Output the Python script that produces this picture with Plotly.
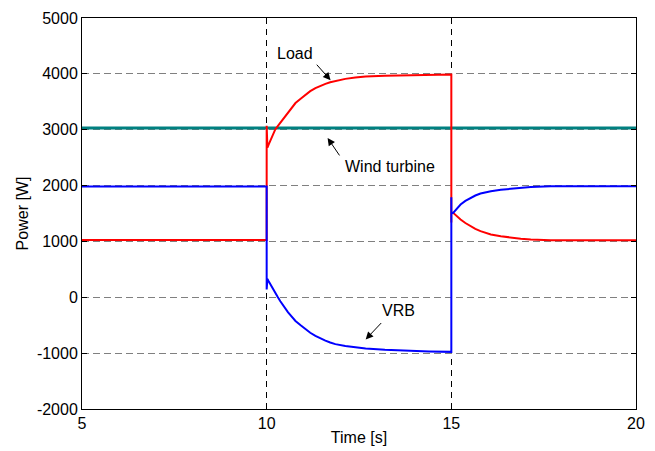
import plotly.graph_objects as go

# ---- data ----
wind_t = [5.0, 20.0]
wind_p = [3030, 3030]

load_t = [5.0, 10.0, 10.0, 10.02, 10.05, 10.14, 10.23, 10.30, 10.37, 10.44, 10.51, 10.58, 10.65, 10.78,
          10.92, 11.05, 11.18, 11.32, 11.45, 11.59, 11.72, 11.86, 12.13, 12.40, 12.68, 13.2, 13.8, 14.4,
          15.0, 15.0, 15.0, 15.05, 15.10, 15.15, 15.25, 15.38, 15.52, 15.65, 15.79, 15.93, 16.07,
          16.34, 16.61, 16.88, 17.15, 17.69, 18.5, 19.3, 20.0]
load_p = [1025, 1025, 3070, 2680, 2730, 2880, 3000, 3065, 3125, 3185, 3238, 3300, 3365, 3477,
          3555, 3625, 3690, 3745, 3785, 3821, 3850, 3875, 3910, 3934, 3952, 3968, 3978, 3984,
          3988, 1340, 1520, 1512, 1480, 1450, 1393, 1330, 1273, 1225, 1184, 1152, 1125,
          1092, 1066, 1050, 1036, 1023, 1020, 1020, 1020]

vrb_t = [5.0, 10.0, 10.0, 10.02, 10.05, 10.14, 10.23, 10.30, 10.37, 10.44, 10.51, 10.58, 10.65, 10.78,
         10.92, 11.05, 11.18, 11.32, 11.45, 11.59, 11.72, 11.86, 12.13, 12.40, 12.68, 13.2, 13.8, 14.4,
         15.0, 15.0, 15.0, 15.05, 15.10, 15.15, 15.25, 15.38, 15.52, 15.65, 15.79, 15.93, 16.07,
         16.34, 16.61, 16.88, 17.15, 17.69, 18.5, 19.3, 20.0]
vrb_p = [1985, 1985, 140, 330, 291, 180, 84, 5, -70, -145, -214, -270, -325, -423,
         -500, -571, -635, -691, -735, -775, -810, -839, -873, -898, -916, -940, -958, -970,
         -977, 1790, 1500, 1510, 1550, 1590, 1661, 1725, 1780, 1822, 1857, 1880, 1899,
         1925, 1946, 1962, 1976, 1988, 1990, 1990, 1990]

x_ticks = [5, 10, 15, 20]
y_ticks = [-2000, -1000, 0, 1000, 2000, 3000, 4000, 5000]

# annotations: (label, text_x, text_y, tail_x, tail_y, head_x, head_y)
notes = [
    ("Load", 10.78, 4370, 11.32, 4191, 11.73, 3887),
    ("Wind turbine", 13.33, 2334, 12.0, 2513, 11.65, 2852),
    ("VRB", 13.57, -238, 13.14, -434, 12.68, -755),
]

FONT = "Liberation Sans, Arial, sans-serif"
FS = 16

fig = go.Figure()
fig.add_trace(go.Scatter(x=wind_t, y=wind_p, mode="lines", line=dict(color="#008080", width=3),
                         name="Wind turbine", showlegend=False))
fig.add_trace(go.Scatter(x=load_t, y=load_p, mode="lines", line=dict(color="#FF0000", width=2),
                         name="Load", showlegend=False))
fig.add_trace(go.Scatter(x=vrb_t, y=vrb_p, mode="lines", line=dict(color="#0000FF", width=2),
                         name="VRB", showlegend=False))

for label, tx, ty, ax_, ay_, hx, hy in notes:
    fig.add_annotation(x=tx, y=ty, text=label, showarrow=False,
                       font=dict(family=FONT, size=FS, color="black"))
    fig.add_annotation(x=hx, y=hy, ax=ax_, ay=ay_, xref="x", yref="y", axref="x", ayref="y",
                       text="", showarrow=True, arrowhead=2, arrowsize=1.5, arrowwidth=1,
                       arrowcolor="black")

fig.update_layout(
    width=655, height=451,
    margin=dict(l=82, r=19, t=18, b=42),
    paper_bgcolor="white", plot_bgcolor="white",
    font=dict(family=FONT, size=FS, color="black"),
    xaxis=dict(range=[5, 20], tickvals=x_ticks, ticktext=[str(v) for v in x_ticks],
               showline=True, linecolor="black", linewidth=1, mirror="ticks",
               ticks="inside", ticklen=5, tickcolor="black", automargin=False,
               showgrid=True, gridcolor="black", gridwidth=1, griddash="6px,5px",
               zeroline=False,
               title=dict(text="Time [s]", standoff=0, font=dict(size=FS))),
    yaxis=dict(range=[-2000, 5000], tickvals=y_ticks, ticktext=[str(v) for v in y_ticks],
               showline=True, linecolor="black", linewidth=1, mirror="ticks",
               ticks="inside", ticklen=5, tickcolor="black", automargin=False,
               showgrid=True, gridcolor="#808080", gridwidth=1, griddash="7px,4px",
               zeroline=False,
               title=dict(text="Power [W]", standoff=4, font=dict(size=FS))),
)

fig.write_html("out.html")
